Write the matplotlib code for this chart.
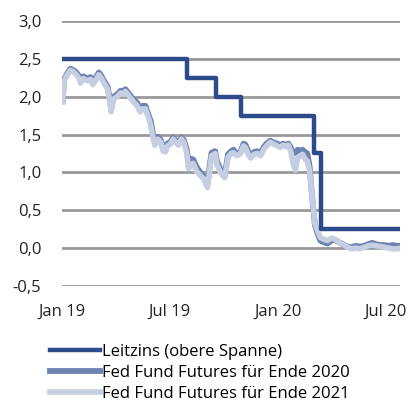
import matplotlib
matplotlib.use('Agg')
import matplotlib.pyplot as plt
import matplotlib.ticker as mticker
import pandas as pd

plt.rcParams['font.family'] = ['Open Sans', 'DejaVu Sans']

# ---------- data ----------
rate_dates = ['2019-01-02', '2019-07-31', '2019-09-18', '2019-10-30',
              '2020-03-03', '2020-03-15', '2020-07-26']
rate_vals = [2.50, 2.25, 2.00, 1.75, 1.25, 0.25, 0.25]

fut_dates = [
    '2019-01-02', '2019-01-04', '2019-01-09', '2019-01-15', '2019-01-20',
    '2019-01-24', '2019-01-29', '2019-02-01', '2019-02-06', '2019-02-13',
    '2019-02-18', '2019-02-22', '2019-02-27', '2019-03-04', '2019-03-08',
    '2019-03-12', '2019-03-19', '2019-03-22', '2019-03-25', '2019-03-29',
    '2019-04-04', '2019-04-10', '2019-04-15', '2019-04-18', '2019-04-25',
    '2019-05-02', '2019-05-08', '2019-05-13', '2019-05-17', '2019-05-22',
    '2019-05-28', '2019-05-31', '2019-06-04', '2019-06-07', '2019-06-12',
    '2019-06-17', '2019-06-21', '2019-06-25', '2019-06-28', '2019-07-03',
    '2019-07-08', '2019-07-12', '2019-07-17', '2019-07-22', '2019-07-26',
    '2019-07-31', '2019-08-03', '2019-08-07', '2019-08-11', '2019-08-16',
    '2019-08-23', '2019-08-28', '2019-09-04', '2019-09-08', '2019-09-11',
    '2019-09-17', '2019-09-20', '2019-09-26', '2019-10-03', '2019-10-06',
    '2019-10-09', '2019-10-14', '2019-10-18', '2019-10-24', '2019-10-30',
    '2019-11-04', '2019-11-07', '2019-11-12', '2019-11-16', '2019-11-22',
    '2019-11-27', '2019-12-03', '2019-12-08', '2019-12-13', '2019-12-19',
    '2019-12-24', '2019-12-31', '2020-01-05', '2020-01-10', '2020-01-15',
    '2020-01-19', '2020-01-23', '2020-01-27', '2020-01-31', '2020-02-04',
    '2020-02-08', '2020-02-12', '2020-02-16', '2020-02-20', '2020-02-24',
    '2020-02-27', '2020-03-02', '2020-03-04', '2020-03-09', '2020-03-13',
    '2020-03-18', '2020-03-25', '2020-04-01', '2020-04-06', '2020-04-13',
    '2020-04-21', '2020-04-28', '2020-05-05', '2020-05-12', '2020-05-19',
    '2020-05-26', '2020-06-02', '2020-06-09', '2020-06-16', '2020-06-23',
    '2020-06-30', '2020-07-07', '2020-07-14', '2020-07-21', '2020-07-26',
]
fut_2020 = [
    1.95, 2.22, 2.30, 2.37, 2.35, 2.33, 2.28, 2.22, 2.27, 2.24,
    2.26, 2.20, 2.25, 2.32, 2.28, 2.22, 2.13, 2.00, 1.84, 2.00,
    2.03, 2.08, 2.06, 2.10, 2.03, 1.96, 1.92, 1.84, 1.88, 1.88,
    1.74, 1.68, 1.50, 1.40, 1.47, 1.43, 1.30, 1.30, 1.38, 1.40,
    1.46, 1.42, 1.38, 1.46, 1.43, 1.30, 1.12, 1.18, 1.17, 1.08,
    1.00, 0.95, 0.84, 1.10, 1.26, 1.28, 1.15, 1.04, 0.95, 1.10,
    1.24, 1.28, 1.30, 1.24, 1.27, 1.38, 1.37, 1.28, 1.22, 1.27,
    1.28, 1.25, 1.33, 1.38, 1.42, 1.40, 1.38, 1.36, 1.38, 1.36,
    1.38, 1.33, 1.25, 1.26, 1.30, 1.28, 1.30, 1.27, 1.25, 1.08,
    0.78, 0.46, 0.30, 0.18, 0.10, 0.08, 0.06, 0.10, 0.11, 0.08,
    0.05, 0.02, 0.01, 0.03, 0.02, 0.03, 0.05, 0.07, 0.05, 0.04,
    0.04, 0.03, 0.04, 0.03, 0.03,
]
fut_2021 = [
    1.93, 2.20, 2.28, 2.35, 2.33, 2.30, 2.25, 2.18, 2.24, 2.21,
    2.23, 2.16, 2.22, 2.29, 2.25, 2.19, 2.10, 1.96, 1.80, 1.97,
    2.00, 2.05, 2.03, 2.07, 2.00, 1.93, 1.88, 1.80, 1.84, 1.84,
    1.70, 1.62, 1.45, 1.36, 1.44, 1.40, 1.28, 1.27, 1.35, 1.37,
    1.44, 1.40, 1.36, 1.44, 1.40, 1.25, 1.05, 1.10, 1.12, 1.02,
    0.96, 0.92, 0.80, 1.05, 1.22, 1.25, 1.10, 1.00, 0.93, 1.06,
    1.20, 1.25, 1.26, 1.22, 1.25, 1.35, 1.33, 1.24, 1.19, 1.24,
    1.25, 1.22, 1.30, 1.35, 1.40, 1.38, 1.35, 1.33, 1.36, 1.34,
    1.36, 1.28, 1.12, 1.03, 1.20, 1.22, 1.24, 1.18, 1.15, 1.02,
    0.78, 0.48, 0.32, 0.22, 0.14, 0.12, 0.10, 0.13, 0.12, 0.08,
    0.05, 0.01, -0.01, 0.00, -0.01, 0.01, 0.03, 0.04, 0.03, 0.02,
    0.01, 0.00, -0.01, -0.01, 0.00,
]

tick_dates = ['2019-01-01', '2019-07-01', '2020-01-01', '2020-07-01']
tick_labels = ['Jan 19', 'Jul 19', 'Jan 20', 'Jul 20']
y_ticks = [-0.5, 0.0, 0.5, 1.0, 1.5, 2.0, 2.5, 3.0]

C_RATE = '#2D4A8A'
C_2020 = '#6E82B4'
C_2021 = '#C6CEE1'

# ---------- plot ----------
fig = plt.figure(figsize=(4.09, 4.05), dpi=100)
ax = fig.add_axes([0.152, 0.294, 0.826, 0.654])

fd = pd.to_datetime(fut_dates)
ax.plot(fd, fut_2020, color=C_2020, lw=4.2, solid_joinstyle='round',
        label='Fed Fund Futures für Ende 2020', zorder=3)
ax.plot(fd, fut_2021, color=C_2021, lw=4.0, solid_joinstyle='round',
        label='Fed Fund Futures für Ende 2021', zorder=4)
ax.plot(pd.to_datetime(rate_dates), rate_vals, color=C_RATE, lw=3.2,
        drawstyle='steps-post', label='Leitzins (obere Spanne)', zorder=5)

ax.set_ylim(-0.5, 3.0)
ax.set_xlim(pd.Timestamp('2019-01-02'), pd.Timestamp('2020-07-26'))
ax.set_yticks(y_ticks)
ax.yaxis.set_major_formatter(
    mticker.FuncFormatter(lambda v, p: f'{v:.1f}'.replace('.', ',')))
ax.set_xticks(pd.to_datetime(tick_dates))
ax.set_xticklabels(tick_labels)
ax.tick_params(axis='both', length=0, labelsize=12, colors='#222222')
ax.tick_params(axis='y', pad=15)
ax.tick_params(axis='x', pad=13)
for s in ax.spines.values():
    s.set_visible(False)
ax.grid(axis='y', color='#999999', lw=2, zorder=0)
ax.set_axisbelow(True)

h, l = ax.get_legend_handles_labels()
order = [2, 0, 1]
fig.legend([h[i] for i in order], [l[i] for i in order],
           loc='upper left', bbox_to_anchor=(0.122, 0.15), frameon=False,
           fontsize=12, handlelength=3.0, handletextpad=0.1,
           labelspacing=0.28, borderpad=0, borderaxespad=0)

fig.savefig('out.png', dpi=100)
